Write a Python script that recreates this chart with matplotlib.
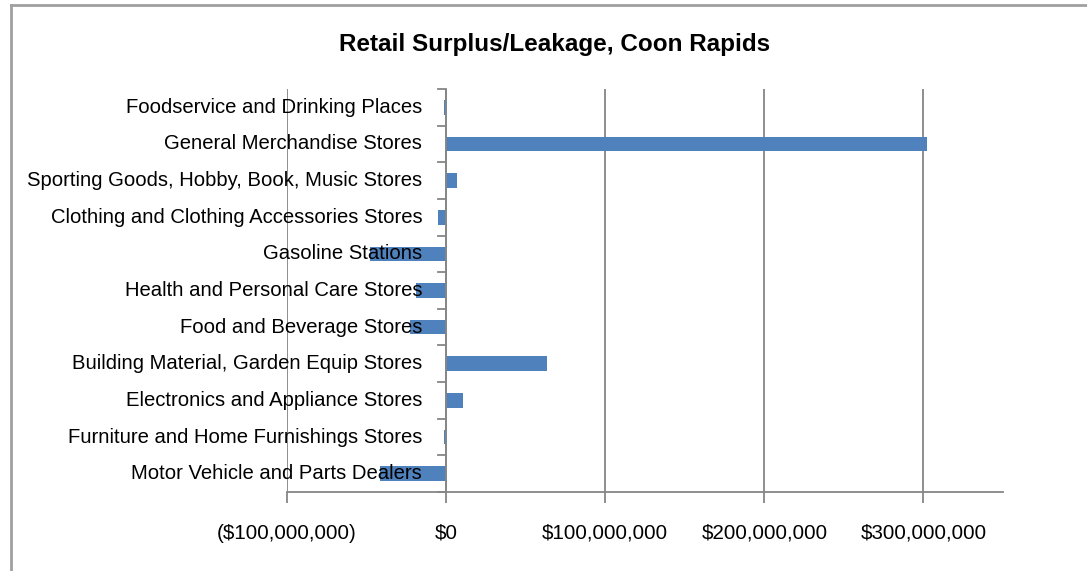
import matplotlib.pyplot as plt
from matplotlib.lines import Line2D
from matplotlib.ticker import FuncFormatter

# categories bottom to top, values in dollars (surplus > 0, leakage < 0)
categories = [
    'Motor Vehicle and Parts Dealers',
    'Furniture and Home Furnishings Stores',
    'Electronics and Appliance Stores',
    'Building Material, Garden Equip Stores',
    'Food and Beverage Stores',
    'Health and Personal Care Stores',
    'Gasoline Stations',
    'Clothing and Clothing Accessories Stores',
    'Sporting Goods, Hobby, Book, Music Stores',
    'General Merchandise Stores',
    'Foodservice and Drinking Places',
]
values = [-41.3e6, -1.5e6, 10.5e6, 63.5e6, -22.6e6, -19.0e6, -47.8e6, -5.0e6, 6.7e6, 302.5e6, -1.5e6]
x_ticks = [-100e6, 0, 100e6, 200e6, 300e6]

plt.rcParams['font.family'] = ['Liberation Sans', 'DejaVu Sans']
grey = '#868686'

fig = plt.figure(figsize=(10.87, 5.71), dpi=100)
ax = fig.add_axes([287 / 1087, 1 - 492 / 571, (1003 - 287) / 1087, (492 - 89) / 571])

pos = list(range(len(categories)))
ax.barh(pos, values, height=0.4, color='#4f81bd', zorder=3)

ax.set_xlim(-100e6, 350e6)
ax.set_ylim(-0.5, len(categories) - 0.5)

# vertical gridlines
ax.set_xticks(x_ticks)
ax.xaxis.set_major_formatter(FuncFormatter(
    lambda v, p: '$0' if v == 0 else ('(${:,.0f})'.format(-v) if v < 0 else '${:,.0f}'.format(v))))
ax.grid(axis='x', color=grey, linewidth=1.3, zorder=1)
ax.tick_params(axis='x', length=8, width=1.3, color=grey, labelsize=14.8, pad=15)

# category axis sits at zero
ax.set_yticks([])
ax.axvline(0, color=grey, linewidth=1.3, zorder=4)
for b in [p - 0.5 for p in pos] + [len(categories) - 0.5]:
    ax.plot([-5e6, 0], [b, b], color=grey, linewidth=1.3, zorder=4, clip_on=False)
for p, name in zip(pos, categories):
    ax.text(-15e6, p, name, ha='right', va='center', fontsize=14.6, zorder=5)

for s in ['top', 'right', 'left']:
    ax.spines[s].set_visible(False)
ax.spines['bottom'].set_color(grey)
ax.spines['bottom'].set_linewidth(1.3)

fig.text(555 / 1087, 1 - 45 / 571, 'Retail Surplus/Leakage, Coon Rapids',
         ha='center', va='center', fontsize=17.5, fontweight='bold')

# chart frame
fig.add_artist(Line2D([11 / 1087, 11 / 1087], [0, 1 - 5 / 571], color='#a0a0a0', linewidth=2))
fig.add_artist(Line2D([11 / 1087, 1], [1 - 5 / 571, 1 - 5 / 571], color='#a0a0a0', linewidth=2))

fig.savefig('out.png')
